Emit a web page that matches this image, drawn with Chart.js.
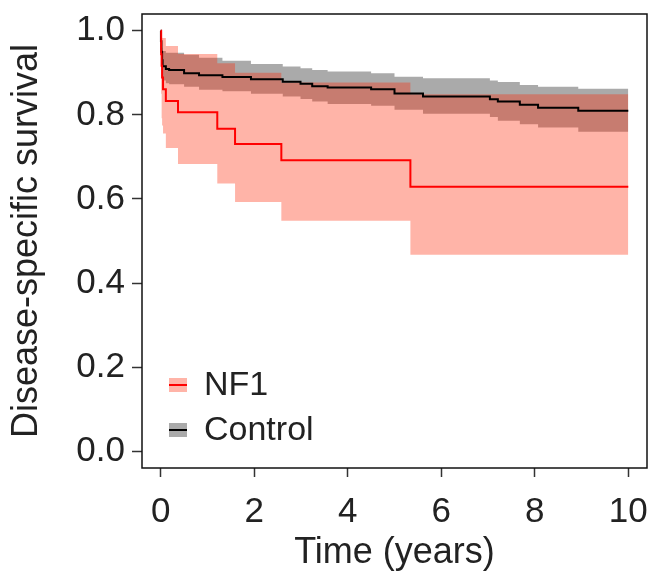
<!DOCTYPE html>
<html>
<head>
<meta charset="utf-8">
<script src="https://cdn.jsdelivr.net/npm/chart.js@4.4.1/dist/chart.umd.min.js"></script>
<style>
    html, body { margin: 0; padding: 0; background: #fff; }
</style>
</head>
<body>
<canvas id="km-chart" width="648" height="573"></canvas>
<script>
// NF1 Kaplan-Meier estimate with confidence band (times in years)
const nf1Time  = [0, 0.01, 0.02, 0.03, 0.05, 0.11, 0.37, 1.21, 1.59, 2.58, 5.34, 10];
const nf1Surv  = [1, 0.944, 0.917, 0.889, 0.861, 0.833, 0.806, 0.767, 0.731, 0.692, 0.629, 0.629];
const nf1Upper = [1, 0.99, 0.985, 0.983, 0.983, 0.964, 0.945, 0.923, 0.90, 0.877, 0.849, 0.849];
const nf1Lower = [1, 0.85, 0.792, 0.775, 0.756, 0.721, 0.683, 0.637, 0.593, 0.548, 0.467, 0.467];

// Control group
const ctrlTime  = [0, 0.005, 0.015, 0.03, 0.04, 0.11, 0.18, 0.5, 0.82, 1.32, 1.93, 2.61, 2.99, 3.24, 3.57, 4.5, 5.0, 5.61, 7.04, 7.21, 7.68, 8.07, 8.93, 10];
const ctrlSurv  = [1, 0.975, 0.95, 0.93, 0.916, 0.909, 0.907, 0.899, 0.894, 0.89, 0.885, 0.879, 0.874, 0.868, 0.865, 0.861, 0.851, 0.844, 0.837, 0.832, 0.824, 0.817, 0.81, 0.81];
const ctrlUpper = [1, 0.99, 0.975, 0.96, 0.952, 0.948, 0.948, 0.943, 0.936, 0.929, 0.921, 0.915, 0.911, 0.907, 0.903, 0.899, 0.891, 0.887, 0.882, 0.878, 0.871, 0.867, 0.862, 0.862];
const ctrlLower = [1, 0.955, 0.925, 0.9, 0.882, 0.875, 0.873, 0.867, 0.86, 0.856, 0.85, 0.844, 0.838, 0.832, 0.826, 0.822, 0.812, 0.803, 0.795, 0.786, 0.778, 0.77, 0.76, 0.76];

const xTicks = [0, 2, 4, 6, 8, 10];
const yTicks = [0, 0.2, 0.4, 0.6, 0.8, 1.0];

const FONT = "'Liberation Sans', Arial, sans-serif";
const TEXT = "#222";
const NF1_FILL = "rgba(255, 34, 0, 0.34)";
const CTRL_FILL = "rgba(0, 0, 0, 0.333)";

function toPoints(times, vals) {
    return times.map((t, i) => ({ x: t, y: vals[i] }));
}

function stepLine(data, color) {
    return {
        data: data,
        borderColor: color,
        borderWidth: 2,
        pointRadius: 0,
        stepped: "before",
        fill: false
    };
}

function band(data, fill, target) {
    return {
        data: data,
        borderWidth: 0,
        borderColor: "rgba(0,0,0,0)",
        backgroundColor: fill,
        pointRadius: 0,
        stepped: "before",
        fill: target
    };
}

// Box around the panel
const panelBorder = {
    id: "panelBorder",
    afterDatasetsDraw(chart) {
        const { ctx, chartArea: a } = chart;
        ctx.save();
        ctx.strokeStyle = "#111";
        ctx.lineWidth = 1.5;
        ctx.strokeRect(a.left, a.top, a.right - a.left, a.bottom - a.top);
        ctx.restore();
    }
};

// Legend inside the panel, bottom-left
const insideLegend = {
    id: "insideLegend",
    afterDraw(chart) {
        const ctx = chart.ctx;
        const items = [
            { label: "NF1", fill: NF1_FILL, line: "#ff0000", y: 385 },
            { label: "Control", fill: CTRL_FILL, line: "#000000", y: 430 }
        ];
        ctx.save();
        items.forEach(it => {
            ctx.fillStyle = it.fill;
            ctx.fillRect(169, it.y - 7, 18, 14);
            ctx.strokeStyle = it.line;
            ctx.lineWidth = 2;
            ctx.beginPath();
            ctx.moveTo(169, it.y);
            ctx.lineTo(187, it.y);
            ctx.stroke();
            ctx.fillStyle = TEXT;
            ctx.font = "34px " + FONT;
            ctx.textBaseline = "middle";
            ctx.textAlign = "left";
            ctx.fillText(it.label, 204, it.y + 1);
        });
        ctx.restore();
    }
};

const ctx = document.getElementById("km-chart").getContext("2d");
new Chart(ctx, {
    type: "line",
    data: {
        datasets: [
            stepLine(toPoints(nf1Time, nf1Surv), "#ff0000"),
            stepLine(toPoints(ctrlTime, ctrlSurv), "#000000"),
            band(toPoints(nf1Time, nf1Upper), NF1_FILL, "+1"),
            band(toPoints(nf1Time, nf1Lower), NF1_FILL, false),
            band(toPoints(ctrlTime, ctrlUpper), CTRL_FILL, "+1"),
            band(toPoints(ctrlTime, ctrlLower), CTRL_FILL, false)
        ]
    },
    options: {
        responsive: false,
        animation: false,
        devicePixelRatio: 1,
        layout: { padding: { top: 14, right: 1, left: 0, bottom: 0 } },
        plugins: {
            legend: { display: false },
            tooltip: { enabled: false },
            filler: { drawTime: "beforeDatasetsDraw" }
        },
        scales: {
            x: {
                type: "linear",
                min: -0.4,
                max: 10.4,
                afterBuildTicks: s => { s.ticks = xTicks.map(v => ({ value: v })); },
                afterFit: s => {
                    s.height = 105;
                    s.paddingLeft = 0;
                    s.paddingRight = 0;
                },
                ticks: {
                    font: { family: FONT, size: 35 },
                    color: TEXT,
                    padding: 14,
                    maxRotation: 0,
                    callback: v => String(v)
                },
                grid: { drawOnChartArea: false, tickLength: 9, tickColor: "#333", tickWidth: 1.5 },
                border: { display: false },
                title: {
                    display: true,
                    text: "Time (years)",
                    font: { family: FONT, size: 36 },
                    color: TEXT,
                    padding: { top: 0, bottom: -2 }
                }
            },
            y: {
                type: "linear",
                min: -0.04,
                max: 1.04,
                afterBuildTicks: s => { s.ticks = yTicks.map(v => ({ value: v })); },
                afterFit: s => {
                    s.width = 142;
                    s.paddingTop = 0;
                    s.paddingBottom = 0;
                },
                ticks: {
                    font: { family: FONT, size: 35 },
                    color: TEXT,
                    padding: 7,
                    callback: v => v.toFixed(1)
                },
                grid: { drawOnChartArea: false, tickLength: 10, tickColor: "#333", tickWidth: 1.5 },
                border: { display: false },
                title: {
                    display: true,
                    text: "Disease-specific survival",
                    font: { family: FONT, size: 36 },
                    color: TEXT,
                    padding: { top: 5, bottom: 0 }
                }
            }
        }
    },
    plugins: [panelBorder, insideLegend]
});
</script>
</body>
</html>
